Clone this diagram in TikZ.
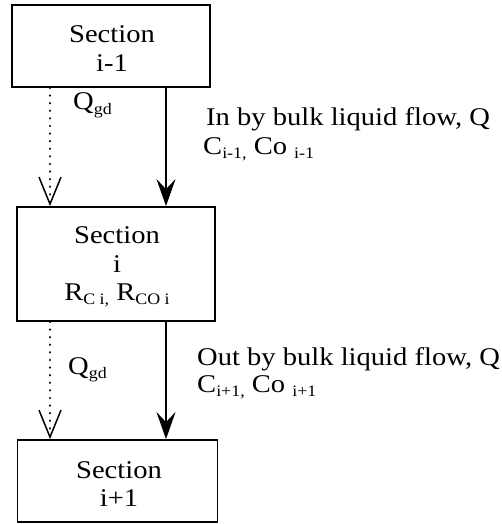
\documentclass[tikz,border=0pt]{standalone}
\usepackage{fontspec}
\setmainfont[FakeStretch=1.12]{Liberation Serif}
\usetikzlibrary{arrows.meta}
\newcommand{\sbx}[1]{\raisebox{-0.35ex}{\fontsize{16}{16}\selectfont #1}}
\tikzset{
  box/.style={draw, line width=1.8pt, inner sep=0pt},
  txt/.style={inner sep=0pt, font=\fontsize{25.5}{29}\selectfont},
  solidarr/.style={line width=1.5pt, -{Stealth[length=27pt,width=19pt,inset=10pt]}},
  dotarr/.style={line width=2.6pt, line cap=round, dash pattern=on 0.1pt off 7.5pt, -{Straight Barb[length=27pt,width=22pt,line width=1.5pt]}},
}
\begin{document}
\begin{tikzpicture}[x=1pt,y=-1pt]
\useasboundingbox (0,0) rectangle (502,524);
% boxes
\node[box, minimum width=198pt, minimum height=82pt] (s1) at (111,46) {};
\node[box, minimum width=198pt, minimum height=114pt] (s2) at (116,264) {};
\node[box, minimum width=200pt, minimum height=82pt] (s3) at (117.5,481) {};
% texts in boxes
\node[txt, anchor=base] (t1a) at (112,43) {Section};
\node[txt, anchor=base] (t1b) at (112,72) {i-1};
\node[txt, anchor=base] (t2a) at (117,243) {Section};
\node[txt, anchor=base] (t2b) at (117,272) {i};
\node[txt, anchor=base] (t2c) at (117,300) {R\sbx{C i,} R\sbx{CO i}};
\node[txt, anchor=base] (t3a) at (119,478) {Section};
\node[txt, anchor=base] (t3b) at (119,506) {i+1};
% arrow columns
\coordinate (xa) at (50,0);
\coordinate (xb) at (166,0);
\draw[dotarr] (s1.south -| xa) -- (s2.north -| xa);
\draw[solidarr] (s1.south -| xb) -- (s2.north -| xb);
\draw[dotarr] (s2.south -| xa) -- (s3.north -| xa);
\draw[solidarr] (s2.south -| xb) -- (s3.north -| xb);
% labels
\node[txt, anchor=base west] (q1) at (73,110) {Q\sbx{gd}};
\node[txt, anchor=base west] (q2) at (68,374) {Q\sbx{gd}};
\node[txt, anchor=base west] (in1) at (206,125) {In by bulk liquid flow, Q};
\node[txt, anchor=base west] (in2) at (203,154) {C\sbx{i-1,} Co \sbx{i-1}};
\node[txt, anchor=base west] (out1) at (197,365) {Out by bulk liquid flow, Q};
\node[txt, anchor=base west] (out2) at (197,392) {C\sbx{i+1,} Co \sbx{i+1}};
\end{tikzpicture}
\end{document}
